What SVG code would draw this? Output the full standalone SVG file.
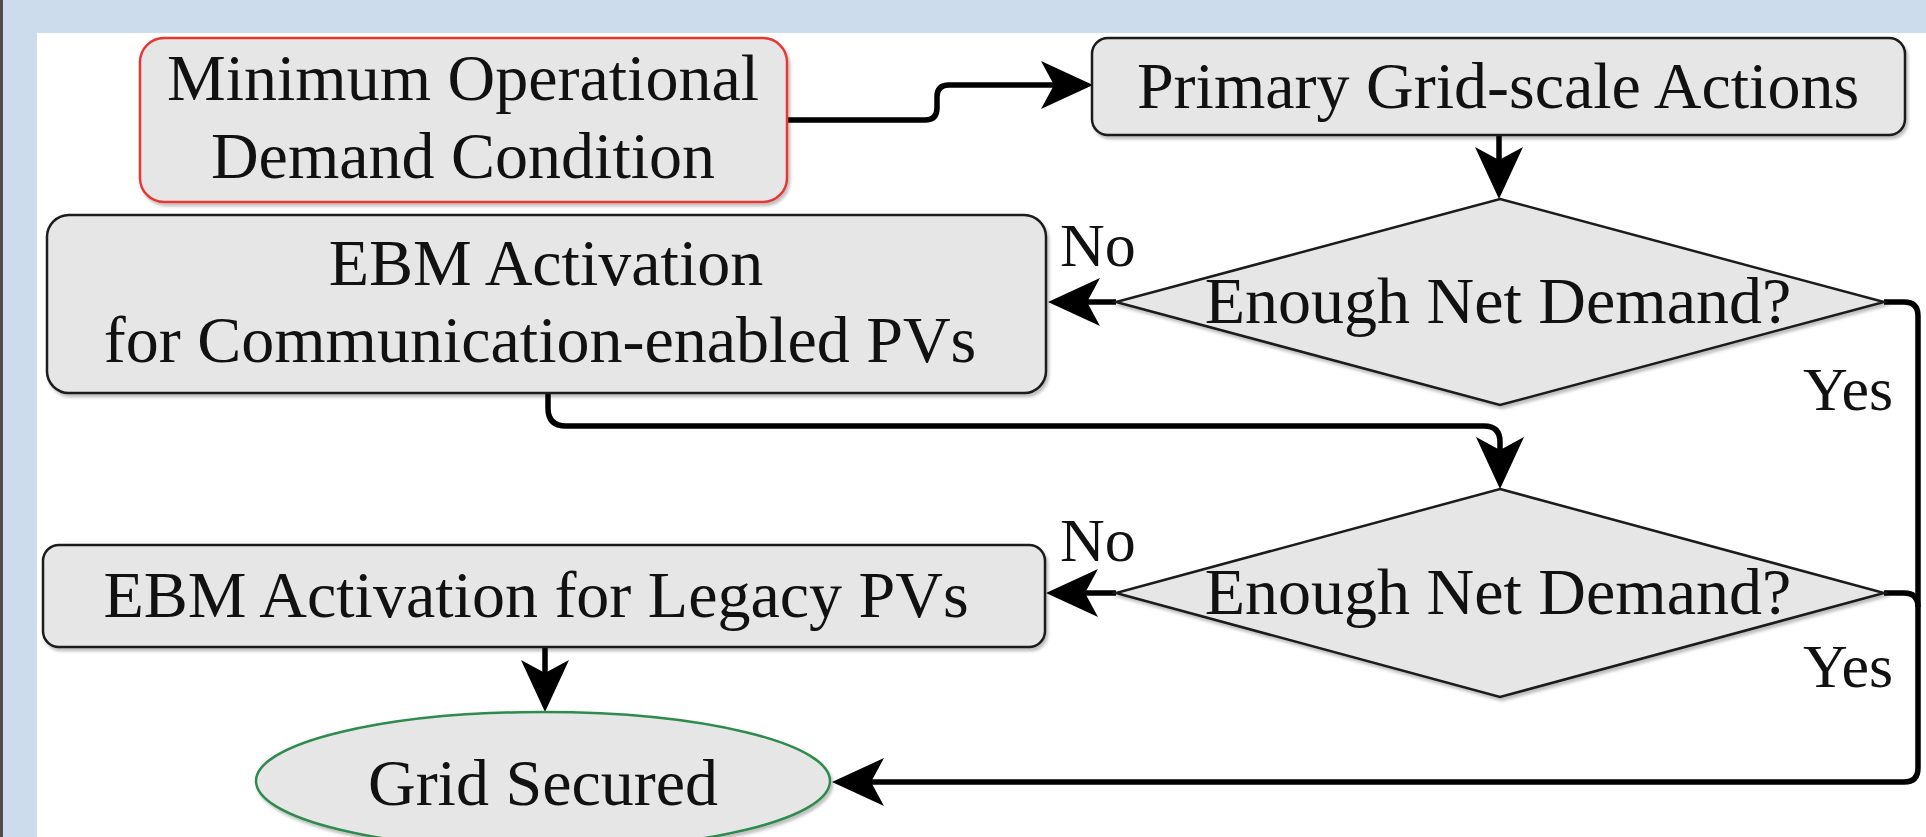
<svg xmlns="http://www.w3.org/2000/svg" width="1926" height="837" viewBox="0 0 1926 837">
  <style>
    .box { fill: #e6e6e6; stroke: #1a1a1a; stroke-width: 2.5; }
    .lbl { font-family: "Liberation Serif", "Times New Roman", serif; font-size: 66px; fill: #111; text-anchor: middle; }
    .edge { font-family: "Liberation Serif", "Times New Roman", serif; font-size: 62px; fill: #111; }
    .conn { fill: none; stroke: #000; stroke-width: 5.5; stroke-linejoin: round; }
  </style>
  <defs>
    <marker id="arr" markerUnits="userSpaceOnUse" viewBox="0 0 52 50" refX="40" refY="25" markerWidth="52" markerHeight="50" orient="auto">
      <path d="M0,1 L52,25 L0,49 L13,25 Z" fill="#000"/>
    </marker>
    <filter id="sh" x="-5%" y="-5%" width="110%" height="115%">
      <feDropShadow dx="2" dy="3" stdDeviation="1.5" flood-color="#000" flood-opacity="0.25"/>
    </filter>
  </defs>

  <rect x="0" y="0" width="1926" height="837" fill="#cddcec"/>
  <rect x="0" y="0" width="3" height="837" fill="#4d4d4d"/>
  <rect x="37" y="33" width="1889" height="804" fill="#ffffff"/>

  <g id="connectors">
    <path class="conn" d="M787,120 H925 Q937,120 937,108 V97 Q937,85 949,85 H1081" marker-end="url(#arr)"/>
    <path class="conn" d="M1499,135 V187" marker-end="url(#arr)"/>
    <path class="conn" d="M1116,302 H1060" marker-end="url(#arr)"/>
    <path class="conn" d="M1884,302 H1904 Q1918,302 1918,316 V768 Q1918,782 1904,782 H844" marker-end="url(#arr)"/>
    <path class="conn" d="M1884,593 H1904 Q1918,593 1918,607"/>
    <path class="conn" d="M548,393 V408 Q548,426 566,426 H1484 Q1500,426 1500,442 V477" marker-end="url(#arr)"/>
    <path class="conn" d="M1116,593 H1058" marker-end="url(#arr)"/>
    <path class="conn" d="M545,647 V700" marker-end="url(#arr)"/>
  </g>

  <g id="edge-labels">
    <text class="edge" x="1060" y="266">No</text>
    <text class="edge" x="1803" y="410">Yes</text>
    <text class="edge" x="1060" y="561">No</text>
    <text class="edge" x="1803" y="687">Yes</text>
  </g>

  <g id="node-minimum">
    <rect class="box" x="140" y="38" width="647" height="164" rx="24" style="stroke:#e53935" filter="url(#sh)"/>
    <text class="lbl" x="463" y="100">Minimum Operational</text>
    <text class="lbl" x="463" y="178">Demand Condition</text>
  </g>

  <g id="node-primary">
    <rect class="box" x="1092" y="38" width="813" height="97" rx="16" filter="url(#sh)"/>
    <text class="lbl" x="1498" y="108">Primary Grid-scale Actions</text>
  </g>

  <g id="node-decision1">
    <polygon class="box" points="1500,199 1884,302 1500,405 1116,302" filter="url(#sh)"/>
    <text class="lbl" x="1498" y="323">Enough Net Demand?</text>
  </g>

  <g id="node-ebm-comm">
    <rect class="box" x="47" y="215" width="999" height="178" rx="22" filter="url(#sh)"/>
    <text class="lbl" x="546" y="285">EBM Activation</text>
    <text class="lbl" x="540" y="362">for Communication-enabled PVs</text>
  </g>

  <g id="node-decision2">
    <polygon class="box" points="1500,489 1884,593 1500,697 1116,593" filter="url(#sh)"/>
    <text class="lbl" x="1498" y="614">Enough Net Demand?</text>
  </g>

  <g id="node-ebm-legacy">
    <rect class="box" x="43" y="545" width="1002" height="102" rx="16" filter="url(#sh)"/>
    <text class="lbl" x="536" y="617">EBM Activation for Legacy PVs</text>
  </g>

  <g id="node-grid-secured">
    <ellipse class="box" cx="543" cy="781" rx="287" ry="69" style="stroke:#2e8b4e" filter="url(#sh)"/>
    <text class="lbl" x="543" y="805">Grid Secured</text>
  </g>
</svg>
